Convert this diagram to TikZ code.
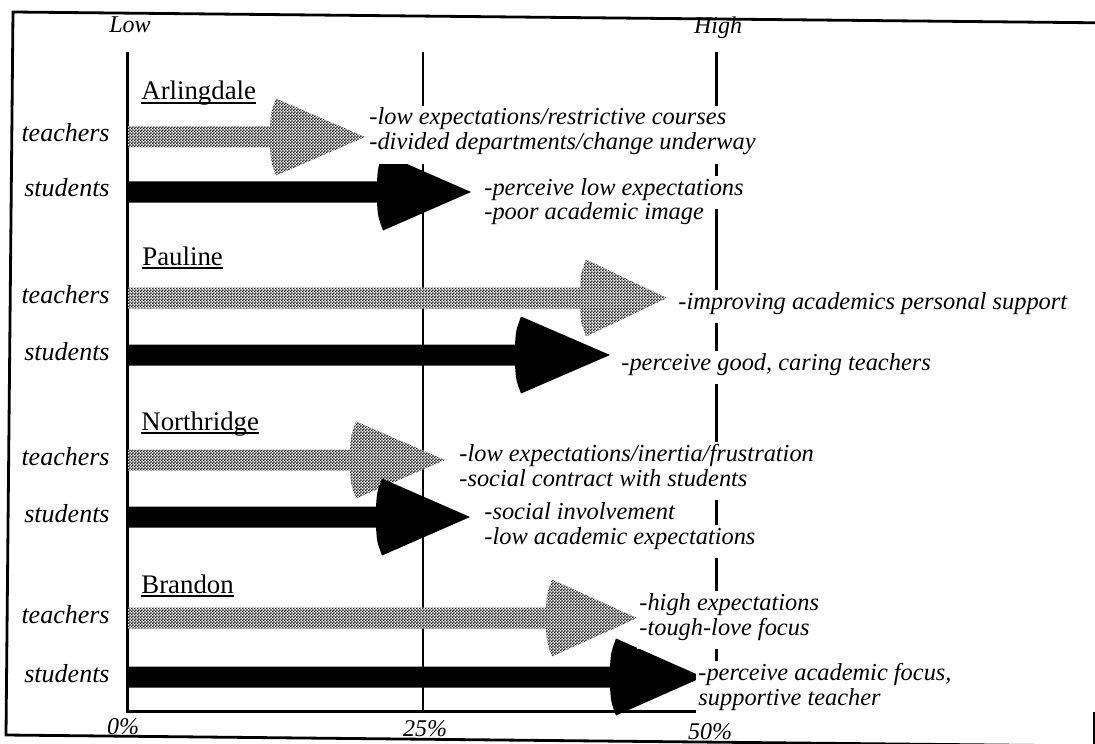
\documentclass[tikz,border=0pt]{standalone}
\usepackage{fontspec}
\setmainfont{Liberation Serif}
\usetikzlibrary{patterns.meta}

% fine stipple used for the teachers' arrows
\tikzdeclarepattern{
  name=stipple,
  type=uncolored,
  bottom left={(0pt,0pt)},
  top right={(1.6pt,1.6pt)},
  tile size={(1.6pt,1.6pt)},
  code={
    \fill (0.4pt,0.4pt) circle (0.55pt);
    \fill (1.2pt,1.2pt) circle (0.55pt);
  }
}

% underlined school name, rule just below the baseline
\newcommand\schoolname[1]{\setbox0\hbox{#1}\rlap{\raisebox{-1.8pt}{\rule{\wd0}{0.8pt}}}\copy0}

% block arrow: style, centre y, start x, back of head x, tip x
\newcommand\blockarrow[5]{%
  \path[#1] (#3,#2-10.5) -- (#4,#2-10.5)
    .. controls (#4+1,#2-25) .. (#4+6,#2-38.5) -- (#5,#2)
    -- (#4+6,#2+38.5) .. controls (#4+1,#2+25) .. (#4,#2+10.5)
    -- (#3,#2+10.5) -- cycle;}

\begin{document}
\begin{tikzpicture}[x=0.5pt,y=-0.5pt,
  tarrow/.style={preaction={fill=white}, pattern={stipple}, pattern color=black},
  sarrow/.style={fill=black},
  axisline/.style={line width=1.5pt},
  gridline/.style={line width=1.1pt},
  framel/.style={line width=1.4pt},
  rowlab/.style={font=\fontsize{13}{15}\selectfont\itshape, anchor=base east, inner sep=0pt},
  sect/.style={font=\fontsize{13.4}{15}\selectfont, anchor=base west, inner sep=0pt},
  desc/.style={font=\fontsize{12.2}{12.5}\selectfont\itshape, anchor=base west, fill=white,
    inner xsep=1pt, inner ysep=0pt, text height=9.5pt, text depth=7pt},
  scalelab/.style={font=\fontsize{12}{14}\selectfont\itshape, anchor=base, inner sep=0pt}]

\useasboundingbox (0,0) rectangle (1095,743);
\clip (0,0) rectangle (1095,743);

% outer frame (slightly skewed, its right side mostly beyond the page)
\coordinate (F1) at (13,12);
\coordinate (F2) at (1118,23);
\coordinate (F3) at (1094,746);
\coordinate (F4) at (6,735);
\coordinate (F5) at (1094,712);
\draw[framel] (F2) -- (F1) -- (F4) -- (F3);
\draw[framel] (F5) -- (F3);

% scale lines
\coordinate (L0) at (127,52);  \coordinate (L0b) at (127,711);
\coordinate (Q1) at (423,52);  \coordinate (Q1b) at (423,711);
\coordinate (H0) at (716,52);  \coordinate (H0b) at (716,711);
\draw[gridline] (Q1) -- (Q1b);
\draw[axisline] (H0) -- (H0b);
\draw[axisline] (L0) -- (L0b) -- (H0b);

% scale labels
\node[scalelab] (low)  at (130,33) {Low};
\node[scalelab] (high) at (718,34) {High};
\node[scalelab] (p0)   at (123,734) {0\%};
\node[scalelab] (p25)  at (425,736) {25\%};
\node[scalelab] (p50)  at (710,739) {50\%};

% Arlingdale
\node[sect] (sA) at (141,100) {\schoolname{Arlingdale}};
\node[rowlab] (tA) at (110,142) {teachers};
\node[rowlab] (stA) at (110,197) {students};
\blockarrow{tarrow}{137}{128}{270}{365}
\blockarrow{sarrow}{192}{128}{377}{471}
\node[desc] (dA1) at (367,125) {-low expectations/restrictive courses};
\node[desc] (dA2) at (367,150) {-divided departments/change underway};
\node[desc] (dA3) at (482,195) {-perceive low expectations};
\node[desc] (dA4) at (482,220) {-poor academic image};

% Pauline
\node[sect] (sP) at (142,265) {\schoolname{Pauline}};
\node[rowlab] (tP) at (110,303) {teachers};
\node[rowlab] (stP) at (110,360) {students};
\blockarrow{tarrow}{298}{128}{580}{667}
\blockarrow{sarrow}{355}{128}{515}{610}
\node[desc] (dP1) at (676,309) {-improving academics personal support};
\node[desc] (dP2) at (619,370) {-perceive good, caring teachers};

% Northridge
\node[sect] (sN) at (141,430) {\schoolname{Northridge}};
\node[rowlab] (tN) at (110,465) {teachers};
\node[rowlab] (stN) at (110,522) {students};
\blockarrow{tarrow}{460}{128}{350}{445}
\blockarrow{sarrow}{517}{128}{376}{470}
\node[desc] (dN1) at (457,461) {-low expectations/inertia/frustration};
\node[desc] (dN2) at (457,486) {-social contract with students};
\node[desc] (dN3) at (482,519) {-social involvement};
\node[desc] (dN4) at (482,544) {-low academic expectations};

% Brandon
\node[sect] (sB) at (141,593) {\schoolname{Brandon}};
\node[rowlab] (tB) at (110,623) {teachers};
\node[rowlab] (stB) at (110,682) {students};
\blockarrow{tarrow}{618}{128}{546}{637}
\blockarrow{sarrow}{677}{128}{610}{703}
\node[desc] (dB1) at (637,610) {-high expectations};
\node[desc] (dB2) at (637,635) {-tough-love focus};
\node[desc] (dB3) at (696,680) {-perceive academic focus,};
\node[desc] (dB4) at (696,705) {supportive teacher};

\end{tikzpicture}
\end{document}
